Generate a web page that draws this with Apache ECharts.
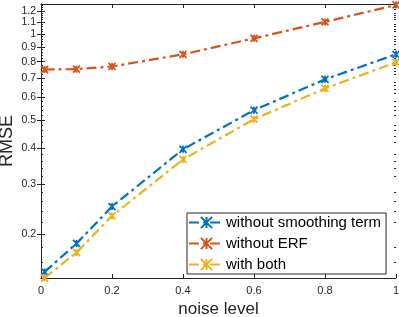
<!DOCTYPE html>
<html><head><meta charset="utf-8">
<script src="https://cdn.jsdelivr.net/npm/echarts@6/dist/echarts.min.js"></script>
<style>html,body{margin:0;padding:0;background:#fff}#c{width:399px;height:317px}</style>
</head><body><div id="c"></div>
<script>
const xValues = [0.01, 0.1, 0.2, 0.4, 0.6, 0.8, 1];
const withoutSmoothing = [0.148, 0.186, 0.250, 0.396, 0.542, 0.694, 0.848];
const withoutERF = [0.751, 0.753, 0.770, 0.848, 0.964, 1.10, 1.26];
const withBoth = [0.141, 0.173, 0.232, 0.365, 0.504, 0.645, 0.795];
const yTickValues = [0.2, 0.3, 0.4, 0.5, 0.6, 0.7, 0.8, 0.9, 1, 1.1, 1.2];
const yMinorTickValues = [0.16, 0.18, 0.22, 0.24, 0.26, 0.28, 0.32, 0.34, 0.36, 0.38,
  0.42, 0.44, 0.46, 0.48, 0.52, 0.54, 0.56, 0.58, 0.62, 0.64, 0.66, 0.68,
  0.72, 0.74, 0.76, 0.78, 0.82, 0.84, 0.86, 0.88, 0.92, 0.94, 0.96, 0.98,
  1.02, 1.04, 1.06, 1.08, 1.12, 1.14, 1.16, 1.18, 1.22, 1.24, 1.26];
const seriesNames = ['without smoothing term', 'without ERF', 'with both'];
const colors = ['#0072BD', '#D95319', '#EDB120'];

const star = 'path://M0,0L10,10M10,0L0,10M5,0L5,10';
const font = 'Liberation Sans, Arial, Helvetica, sans-serif';
function mk(name, data, color) {
  return {
    name: name, type: 'line',
    data: xValues.map((x, i) => [x, data[i]]),
    symbol: star, symbolSize: 7,
    itemStyle: {color: color, borderColor: color, borderWidth: 1.8},
    lineStyle: {color: color, width: 2.2, type: [10, 4, 3, 4]},
    showSymbol: true
  };
}
const axisCol = '#262626';
const yMin = 0.141, yMax = 1.27;
function minorAxis(pos) {
  return {
    type: 'log', logBase: 10, min: yMin, max: yMax, position: pos,
    axisLine: {show: false},
    axisTick: {show: true, inside: true, length: 2, lineStyle: {color: axisCol}, customValues: yMinorTickValues},
    axisLabel: {show: false}, splitLine: {show: false}
  };
}
const chart = echarts.init(document.getElementById('c'), null, {renderer: 'canvas'});
chart.setOption({
  animation: false,
  backgroundColor: '#fff',
  color: colors,
  grid: {left: 41, right: 3, top: 4, bottom: 39, outerBoundsMode: 'none', containLabel: false},
  legend: {
    orient: 'vertical', left: 187, top: 213,
    data: seriesNames,
    itemWidth: 35, itemHeight: 14, itemGap: 6,
    padding: [2, 5, 2, 1],
    borderColor: '#262626', borderWidth: 1,
    backgroundColor: '#fff',
    textStyle: {fontFamily: font, fontSize: 15, color: '#000', padding: [0, 0, 0, -3]}
  },
  xAxis: [{
    type: 'value', min: 0, max: 1, interval: 0.2,
    name: 'noise level', nameLocation: 'middle', nameGap: 23, nameMoveOverlap: false,
    nameTextStyle: {fontFamily: font, fontSize: 17, color: axisCol},
    axisLine: {onZero: false, lineStyle: {color: axisCol, width: 1}},
    axisTick: {inside: true, length: 4, lineStyle: {color: axisCol}},
    axisLabel: {fontFamily: font, fontSize: 11, color: axisCol, margin: 7,
      formatter: v => String(Math.round(v * 10) / 10)},
    splitLine: {show: false}
  }, {
    type: 'value', min: 0, max: 1, interval: 0.2, position: 'top',
    axisLine: {show: true, lineStyle: {color: axisCol}},
    axisTick: {inside: true, length: 4, lineStyle: {color: axisCol}},
    axisLabel: {show: false}, splitLine: {show: false}
  }],
  yAxis: [{
    type: 'log', logBase: 10, min: yMin, max: yMax,
    name: 'RMSE', nameLocation: 'middle', nameGap: 25, nameMoveOverlap: false,
    nameTextStyle: {fontFamily: font, fontSize: 18, color: axisCol},
    axisLine: {show: true, lineStyle: {color: axisCol}},
    axisTick: {inside: true, length: 4, lineStyle: {color: axisCol}, customValues: yTickValues},
    axisLabel: {fontFamily: font, fontSize: 10.5, color: axisCol, margin: 5, customValues: yTickValues,
      hideOverlap: false, interval: 0, showMaxLabel: true, showMinLabel: true,
      formatter: v => String(Math.round(v * 10) / 10)},
    splitLine: {show: false}, minorTick: {show: false}
  }, {
    type: 'log', logBase: 10, min: yMin, max: yMax, position: 'right',
    axisLine: {show: true, lineStyle: {color: axisCol}},
    axisTick: {inside: true, length: 4, lineStyle: {color: axisCol}, customValues: yTickValues},
    axisLabel: {show: false}, splitLine: {show: false}
  }, minorAxis('left'), minorAxis('right')],
  series: [
    mk(seriesNames[0], withoutSmoothing, colors[0]),
    mk(seriesNames[1], withoutERF, colors[1]),
    mk(seriesNames[2], withBoth, colors[2])
  ]
});
</script></body></html>
